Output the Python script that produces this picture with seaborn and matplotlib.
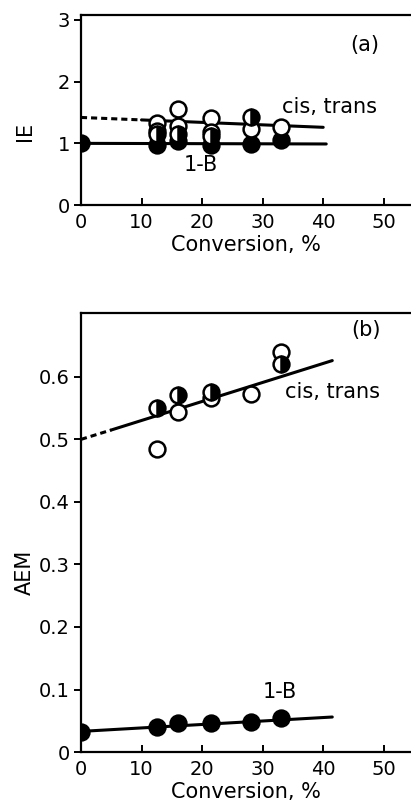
import matplotlib
matplotlib.use("Agg")
import matplotlib.pyplot as plt
import seaborn as sns

# ---- panel (a): IE vs conversion ----
ie_open_x = [12.5, 12.5, 16, 16, 21.5, 21.5, 28, 33]
ie_open_y = [1.33, 1.20, 1.55, 1.28, 1.41, 1.18, 1.24, 1.26]
ie_half_x = [12.5, 16, 21.5, 28]
ie_half_y = [1.15, 1.15, 1.12, 1.43]
ie_1b_x = [0, 12.5, 16, 21.5, 28, 33]
ie_1b_y = [1.00, 0.97, 1.04, 0.97, 0.99, 1.05]

# fitted lines (dashed extrapolation + solid part)
ie_cis_dash_x = [0, 10]
ie_cis_dash_y = [1.42, 1.38]
ie_cis_fit_x = [10, 40]
ie_cis_fit_y = [1.38, 1.26]
ie_1b_fit_x = [0, 40.5]
ie_1b_fit_y = [1.00, 0.99]

ie_ticks = [0, 1, 2, 3]

# ---- panel (b): AEM vs conversion ----
aem_open_x = [12.5, 16, 21.5, 28, 33]
aem_open_y = [0.485, 0.543, 0.566, 0.573, 0.640]
aem_half_x = [12.5, 16, 21.5, 33]
aem_half_y = [0.550, 0.571, 0.576, 0.620]
aem_1b_x = [0, 12.5, 16, 21.5, 28, 33]
aem_1b_y = [0.032, 0.040, 0.046, 0.047, 0.048, 0.055]

aem_cis_dash_x = [0, 5]
aem_cis_dash_y = [0.500, 0.515]
aem_cis_fit_x = [5, 41.5]
aem_cis_fit_y = [0.515, 0.626]
aem_1b_fit_x = [0, 41.5]
aem_1b_fit_y = [0.033, 0.056]

aem_ticks = [0, 0.1, 0.2, 0.3, 0.4, 0.5, 0.6]
aem_ticklabels = ["0", "0.1", "0.2", "0.3", "0.4", "0.5", "0.6"]

conv_ticks = [0, 10, 20, 30, 40, 50]

sns.set_style("ticks")
plt.rcParams["font.family"] = ["DejaVu Sans"]
plt.rcParams["text.color"] = "black"
plt.rcParams["axes.labelcolor"] = "black"
plt.rcParams["xtick.color"] = "black"
plt.rcParams["ytick.color"] = "black"

fig = plt.figure(figsize=(4.11, 8.05), dpi=100)
ax_a = fig.add_axes([0.197, 0.7453, 0.803, 0.236])
ax_b = fig.add_axes([0.197, 0.0658, 0.803, 0.5453])

MS = 130
EW = 1.8
LW = 2.2
FS = 14


def draw_panel(ax, open_x, open_y, half_x, half_y, b_x, b_y,
               dash_x, dash_y, fit_x, fit_y, bfit_x, bfit_y):
    sns.lineplot(x=dash_x, y=dash_y, ax=ax, color="black", lw=LW,
                 linestyle=(0, (2.0, 1.3)), zorder=2)
    sns.lineplot(x=fit_x, y=fit_y, ax=ax, color="black", lw=LW, zorder=2)
    sns.lineplot(x=bfit_x, y=bfit_y, ax=ax, color="black", lw=LW, zorder=2)
    sns.scatterplot(x=b_x, y=b_y, ax=ax, s=MS, color="black",
                    edgecolor="black", linewidth=EW, zorder=3)
    sns.scatterplot(x=open_x, y=open_y, ax=ax, s=MS, color="white",
                    edgecolor="black", linewidth=EW, zorder=4)
    # half-filled circles
    ax.plot(half_x, half_y, linestyle="none", marker="o", markersize=11.4,
            fillstyle="right", markerfacecolor="black",
            markerfacecoloralt="white", markeredgecolor="black",
            markeredgewidth=EW, zorder=5)

    ax.set_xlim(0, 54.5)
    ax.set_xticks(conv_ticks)
    ax.set_xticklabels([str(t) for t in conv_ticks], fontsize=FS)
    ax.set_xlabel("Conversion, %", fontsize=15, labelpad=2)
    ax.spines["right"].set_visible(False)
    for s in ["left", "bottom", "top"]:
        ax.spines[s].set_linewidth(1.6)
        ax.spines[s].set_color("black")
    ax.tick_params(axis="x", direction="in", length=5, width=1.4, pad=6)
    ax.tick_params(axis="y", direction="out", length=5, width=1.4, pad=3)


draw_panel(ax_a, ie_open_x, ie_open_y, ie_half_x, ie_half_y, ie_1b_x, ie_1b_y,
           ie_cis_dash_x, ie_cis_dash_y, ie_cis_fit_x, ie_cis_fit_y,
           ie_1b_fit_x, ie_1b_fit_y)
ax_a.set_ylim(0, 3.08)
ax_a.set_yticks(ie_ticks)
ax_a.set_yticklabels([str(t) for t in ie_ticks], fontsize=FS)
ax_a.set_ylabel("IE", fontsize=15)
ax_a.yaxis.set_label_coords(-0.14, 0.39)
ax_a.text(46.9, 2.59, "(a)", fontsize=15, ha="center", va="center")
ax_a.text(41.1, 1.59, "cis, trans", fontsize=15, ha="center", va="center")
ax_a.text(19.8, 0.65, "1-B", fontsize=15, ha="center", va="center")

draw_panel(ax_b, aem_open_x, aem_open_y, aem_half_x, aem_half_y, aem_1b_x, aem_1b_y,
           aem_cis_dash_x, aem_cis_dash_y, aem_cis_fit_x, aem_cis_fit_y,
           aem_1b_fit_x, aem_1b_fit_y)
ax_b.set_ylim(0, 0.702)
ax_b.set_yticks(aem_ticks)
ax_b.set_yticklabels(aem_ticklabels, fontsize=FS)
ax_b.set_ylabel("AEM", fontsize=15)
ax_b.yaxis.set_label_coords(-0.14, 0.41)
ax_b.text(47.0, 0.675, "(b)", fontsize=15, ha="center", va="center")
ax_b.text(41.5, 0.576, "cis, trans", fontsize=15, ha="center", va="center")
ax_b.text(32.8, 0.096, "1-B", fontsize=15, ha="center", va="center")

fig.savefig("out.png", dpi=100)
